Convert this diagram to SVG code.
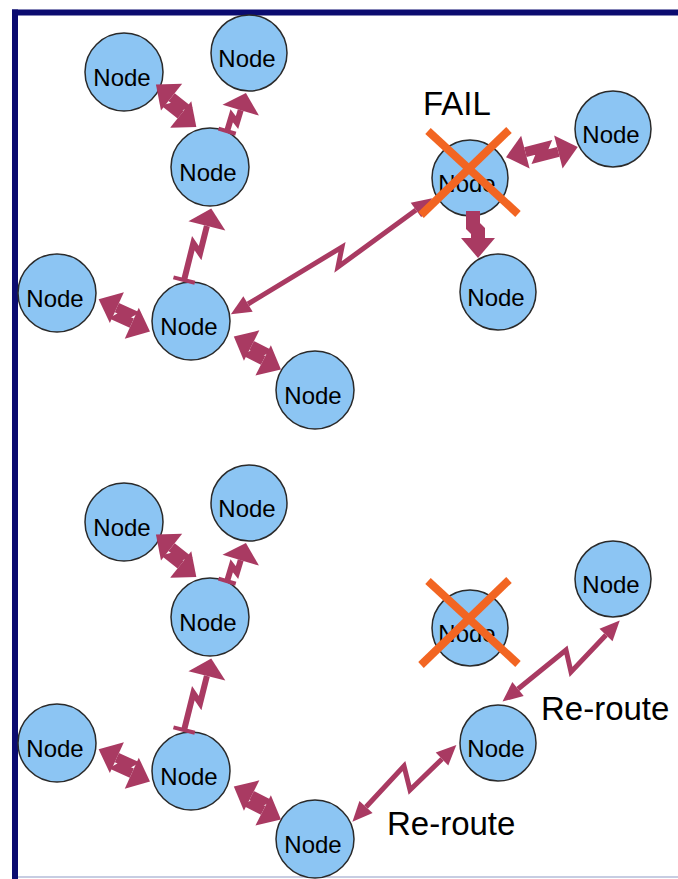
<svg xmlns="http://www.w3.org/2000/svg" width="678" height="879" viewBox="0 0 678 879">
<defs>
<style>
.node circle{fill:#8CC5F3;stroke:#2a2a2a;stroke-width:1.5}
.node text{font-family:"Liberation Sans",Arial,sans-serif;font-size:24px;text-anchor:middle;fill:#000}
.zz{fill:none;stroke:#A93A62;stroke-width:10;stroke-linejoin:miter;marker-start:url(#hb);marker-end:url(#hb)}
.zz1{fill:none;stroke:#A93A62;stroke-width:6;stroke-linejoin:miter;marker-end:url(#hw)}
.zzv{fill:none;stroke:#A93A62;stroke-width:14;stroke-linejoin:miter;marker-end:url(#hb)}
.bar{stroke:#A93A62;stroke-width:4}
.ln{fill:none;stroke:#A93A62;stroke-width:5;stroke-linejoin:miter;marker-start:url(#hl);marker-end:url(#hl)}
.x{stroke:#F26522;stroke-width:8;stroke-linecap:butt}
.lbl{font-family:"Liberation Sans",Arial,sans-serif;font-size:33px;fill:#000}
</style>
<marker id="hb" markerUnits="userSpaceOnUse" markerWidth="22" markerHeight="34" refX="0" refY="17" orient="auto-start-reverse" overflow="visible"><path d="M0,0 L20,17 L0,34 z" fill="#A93A62"/></marker>
<marker id="hw" markerUnits="userSpaceOnUse" markerWidth="20" markerHeight="38" refX="0" refY="19" orient="auto-start-reverse" overflow="visible"><path d="M0,0 L18,19 L0,38 z" fill="#A93A62"/></marker>
<marker id="hl" markerUnits="userSpaceOnUse" markerWidth="22" markerHeight="20" refX="0" refY="10" orient="auto-start-reverse" overflow="visible"><path d="M0,1 L20,10 L0,19 z" fill="#A93A62"/></marker>
</defs>
<rect width="678" height="879" fill="#fff"/>
<g id="frame">
<line x1="12" y1="12.5" x2="678" y2="12.5" stroke="#0B0B70" stroke-width="6"/>
<line x1="15" y1="9.5" x2="15" y2="879" stroke="#0B0B70" stroke-width="6"/>
<line x1="18" y1="877" x2="678" y2="877" stroke="#B4BCD8" stroke-width="1.5"/>
</g>
<g id="nodes-top">
<g id="n-a1" class="node"><circle cx="124" cy="72" r="39"/><text x="122" y="86">Node</text></g>
<g id="n-b1" class="node"><circle cx="249" cy="53" r="38"/><text x="247" y="67">Node</text></g>
<g id="n-c1" class="node"><circle cx="210" cy="167" r="39"/><text x="208" y="181">Node</text></g>
<g id="n-d1" class="node"><circle cx="57" cy="293" r="39"/><text x="55" y="307">Node</text></g>
<g id="n-e1" class="node"><circle cx="191" cy="321" r="39"/><text x="189" y="335">Node</text></g>
<g id="n-f1" class="node"><circle cx="315" cy="390" r="39"/><text x="313" y="404">Node</text></g>
<g id="n-g1" class="node"><circle cx="470" cy="178" r="38"/><text x="467" y="192">Node</text></g>
<g id="n-h1" class="node"><circle cx="613" cy="129" r="38"/><text x="611" y="143">Node</text></g>
<g id="n-i1" class="node"><circle cx="498" cy="292" r="38"/><text x="496" y="306">Node</text></g>
</g>
<g id="nodes-bottom">
<g id="n-a2" class="node"><circle cx="124" cy="522" r="39"/><text x="122" y="536">Node</text></g>
<g id="n-b2" class="node"><circle cx="249" cy="503" r="38"/><text x="247" y="517">Node</text></g>
<g id="n-c2" class="node"><circle cx="210" cy="617" r="39"/><text x="208" y="631">Node</text></g>
<g id="n-d2" class="node"><circle cx="57" cy="743" r="39"/><text x="55" y="757">Node</text></g>
<g id="n-e2" class="node"><circle cx="191" cy="771" r="39"/><text x="189" y="785">Node</text></g>
<g id="n-f2" class="node"><circle cx="315" cy="839" r="39"/><text x="313" y="853">Node</text></g>
<g id="n-g2" class="node"><circle cx="470" cy="628" r="38"/><text x="467" y="642">Node</text></g>
<g id="n-h2" class="node"><circle cx="613" cy="579" r="38"/><text x="611" y="593">Node</text></g>
<g id="n-i2" class="node"><circle cx="498" cy="743" r="38"/><text x="496" y="757">Node</text></g>
</g>
<g id="connectors">
<!-- top -->
<polyline class="zz" transform="translate(155,89) rotate(38.5)" points="18,-4 31,-4 25,4 36,4"/>
<g transform="translate(230,132) rotate(-73.3)"><line class="bar" x1="0" y1="-12" x2="0" y2="6"/><polyline class="zz1" points="0,-3 16,-3 11,4 24,4"/></g>
<g transform="translate(188,281) rotate(-76)"><line class="bar" x1="0" y1="-15" x2="0" y2="7"/><polyline class="zz1" points="0,-4 38,-4 30,5 58,5"/></g>
<polyline class="zz" transform="translate(97,303) rotate(24.4)" points="20,-4 33,-4 27,4 40,4"/>
<polyline class="zz" transform="translate(232,340) rotate(27)" points="20,-4 31.5,-4 25.5,4 37,4"/>
<polyline class="ln" points="248,304 342,247 338,267 416,210"/>
<polyline class="zz" transform="translate(507,161) rotate(-14.4)" points="20,-4 39,-4 33,4 52,4"/>
<polyline class="zzv" points="473,211 473,226 478,231 478,238"/>
<!-- bottom -->
<polyline class="zz" transform="translate(155,539) rotate(38.5)" points="18,-4 31,-4 25,4 36,4"/>
<g transform="translate(230,582) rotate(-73.3)"><line class="bar" x1="0" y1="-12" x2="0" y2="6"/><polyline class="zz1" points="0,-3 16,-3 11,4 24,4"/></g>
<g transform="translate(188,731) rotate(-76)"><line class="bar" x1="0" y1="-15" x2="0" y2="7"/><polyline class="zz1" points="0,-4 38,-4 30,5 58,5"/></g>
<polyline class="zz" transform="translate(97,753) rotate(24.4)" points="20,-4 33,-4 27,4 40,4"/>
<polyline class="zz" transform="translate(232,790) rotate(27)" points="20,-4 31.5,-4 25.5,4 37,4"/>
<polyline class="ln" points="366,807 404,766 410,790 442,759"/>
<polyline class="ln" points="518,689 566,650 571,672 606,635"/>
</g>
<g id="fail-marks">
<line class="x" x1="428" y1="131" x2="518" y2="214"/>
<line class="x" x1="509" y1="130" x2="421" y2="215"/>
<line class="x" x1="428" y1="581" x2="518" y2="664"/>
<line class="x" x1="509" y1="580" x2="421" y2="665"/>
</g>
<g id="labels">
<text class="lbl" x="423" y="115">FAIL</text>
<text class="lbl" x="541" y="720">Re-route</text>
<text class="lbl" x="387" y="835">Re-route</text>
</g>
</svg>
